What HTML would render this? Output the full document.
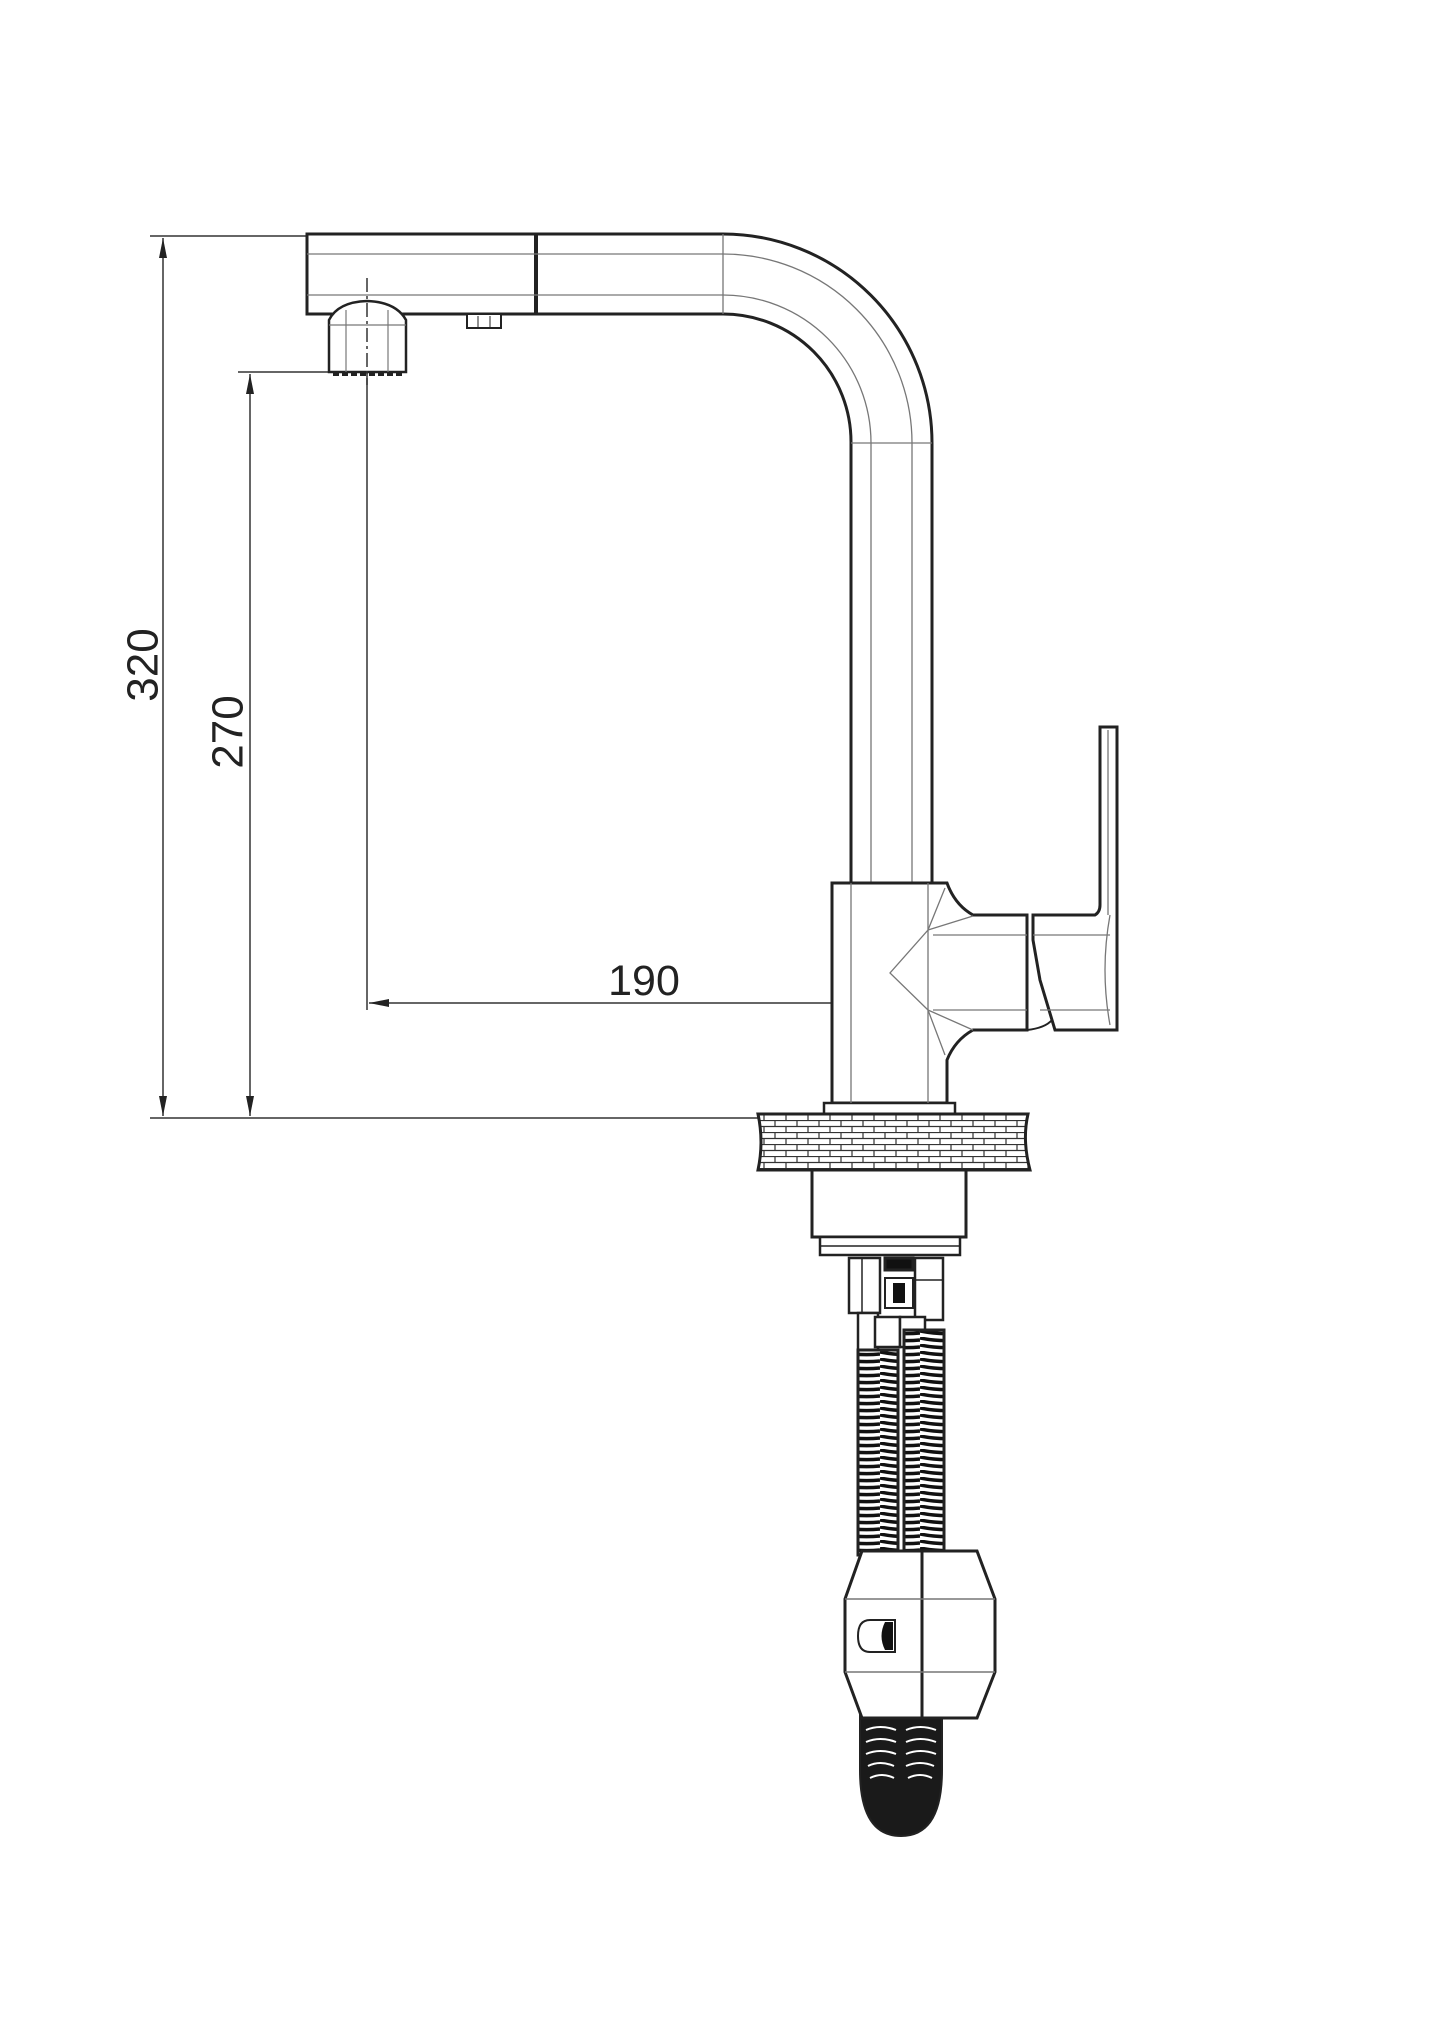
<!DOCTYPE html>
<html><head><meta charset="utf-8"><style>
html,body{margin:0;padding:0;background:#fff;}
svg{display:block;}
text{font-family:"Liberation Sans",sans-serif;fill:#222;}
</style></head><body>
<svg width="1445" height="2043" viewBox="0 0 1445 2043" xmlns="http://www.w3.org/2000/svg">
<defs>
<marker id="arv" viewBox="0 0 20 10" refX="20" refY="5" markerWidth="22" markerHeight="10" markerUnits="userSpaceOnUse" orient="auto-start-reverse">
<path d="M0,1 L20,5 L0,9 z" fill="#222"/></marker>
<pattern id="brick" width="22" height="12" patternUnits="userSpaceOnUse" x="0" y="1120">
<rect width="22" height="12" fill="#fff"/>
<path d="M0,0.5H22M0,6.5H22M5,0V6M16,6V12" stroke="#333" stroke-width="1.2" fill="none"/>
</pattern>
<pattern id="coil" width="40" height="7" patternUnits="userSpaceOnUse">
<rect width="40" height="7" fill="#fff"/>
<path d="M0,1 Q20,5 40,3" stroke="#111" stroke-width="3.5" fill="none"/>
</pattern>
</defs>

<g stroke="#333" stroke-width="1.5" fill="none">
<line x1="150" y1="236" x2="308" y2="236"/>
<line x1="238" y1="372" x2="330" y2="372"/>
<line x1="150" y1="1118" x2="760" y2="1118"/>
<line x1="163" y1="238" x2="163" y2="1116" marker-start="url(#arv)" marker-end="url(#arv)"/>
<line x1="250" y1="374" x2="250" y2="1116" marker-start="url(#arv)" marker-end="url(#arv)"/>
<line x1="369" y1="1003" x2="888" y2="1003" marker-start="url(#arv)" marker-end="url(#arv)"/>
<line x1="367" y1="360" x2="367" y2="1010"/>
<line x1="890" y1="1000" x2="890" y2="1097"/>
</g>
<text x="143" y="665" font-size="44" text-anchor="middle" dominant-baseline="central" transform="rotate(-90 143 665)">320</text>
<text x="228" y="732" font-size="44" text-anchor="middle" dominant-baseline="central" transform="rotate(-90 228 732)">270</text>
<text x="644" y="995" font-size="43" text-anchor="middle">190</text>

<g fill="none" stroke="#222">
<path d="M307,234 H723 A209,209 0 0 1 932,443 V890 H851 V443 A128,128 0 0 0 723,314 H307 Z" stroke-width="3" fill="#fff"/>
<line x1="536" y1="234" x2="536" y2="314" stroke-width="4"/>
<g stroke="#777" stroke-width="1.3">
<line x1="307" y1="254" x2="723" y2="254"/>
<line x1="307" y1="295" x2="723" y2="295"/>
<line x1="723" y1="234" x2="723" y2="314"/>
<path d="M723,254 A189,189 0 0 1 912,443 V890"/>
<path d="M723,295 A148,148 0 0 1 871,443 V890"/>
<line x1="851" y1="443" x2="932" y2="443"/>
</g>
<path d="M329,372 V320 Q338,302 367,301 Q396,302 406,320 V372 Z" stroke-width="2.5" fill="#fff"/>
<g stroke="#777" stroke-width="1.2"><line x1="329" y1="325" x2="406" y2="325"/><line x1="346" y1="310" x2="346" y2="372"/><line x1="388" y1="310" x2="388" y2="372"/></g>
<line x1="333" y1="374" x2="402" y2="374" stroke-width="4" stroke-dasharray="6,3"/>
<rect x="467" y="314" width="34" height="14" stroke-width="2" fill="#fff"/>
<line x1="478" y1="316" x2="478" y2="328" stroke-width="1"/><line x1="490" y1="316" x2="490" y2="328" stroke-width="1"/>
<line x1="367" y1="278" x2="367" y2="385" stroke="#333" stroke-width="1.5" stroke-dasharray="14,4,3,4"/>
</g>

<g fill="#fff" stroke="#222" stroke-width="3">
<path d="M832,883 H947 Q955,905 973,915 H1027 V1030 H973 Q955,1040 947,1060 V1103 H832 Z"/>
<rect x="824" y="1103" width="131" height="11" stroke-width="2.5"/>
<path d="M1033,915 H1095 Q1100,912 1100,905 V727 H1117 V1030 H1055 L1040,980 L1033,940 Z"/>
<path d="M1027,1030 Q1045,1028 1052,1020" fill="none" stroke-width="2"/>
</g>
<g stroke="#777" stroke-width="1.3" fill="none">
<line x1="851" y1="883" x2="851" y2="1103"/><line x1="928" y1="883" x2="928" y2="1103"/>
<path d="M945,888 L928,930 L890,973 L928,1010 L945,1055"/>
<path d="M928,930 L973,916 M928,1010 L973,1030"/>
<line x1="933" y1="935" x2="1027" y2="935"/><line x1="933" y1="1010" x2="1027" y2="1010"/>
<line x1="1033" y1="935" x2="1110" y2="935"/><line x1="1040" y1="1010" x2="1110" y2="1010"/>
<line x1="1108" y1="730" x2="1108" y2="915"/>
<path d="M1110,915 Q1100,970 1110,1025"/>
</g>

<path d="M758,1114 H1028 Q1022,1140 1030,1170 H758 Q764,1142 758,1114 Z" fill="url(#brick)" stroke="#222" stroke-width="3"/>

<g fill="#fff" stroke="#222" stroke-width="3">
<rect x="812" y="1170" width="154" height="67"/>
<rect x="820" y="1237" width="140" height="18" stroke-width="2.5"/>
<line x1="820" y1="1246" x2="960" y2="1246" stroke-width="1.5"/>
<rect x="849" y="1258" width="31" height="55" stroke-width="2.5"/>
<line x1="862" y1="1258" x2="862" y2="1313" stroke-width="1.5"/>
<rect x="858" y="1313" width="20" height="40" stroke-width="2.5"/>
<rect x="915" y="1258" width="28" height="62" stroke-width="2.5"/>
<line x1="915" y1="1280" x2="943" y2="1280" stroke-width="1.5"/>
<rect x="885" y="1258" width="28" height="12" fill="#111"/>
<rect x="885" y="1278" width="28" height="30" stroke-width="2"/>
<rect x="893" y="1283" width="12" height="20" fill="#111" stroke="none"/>
<rect x="875" y="1317" width="25" height="30" stroke-width="2.5"/>
<rect x="900" y="1317" width="25" height="30" stroke-width="2.5"/>
<rect x="858" y="1350" width="40" height="205" fill="url(#coil)" stroke-width="3"/>
<rect x="904" y="1330" width="40" height="225" fill="url(#coil)" stroke-width="3"/>
<path d="M860,1710 V1770 Q860,1836 901,1836 Q942,1836 942,1770 V1710 Z" fill="#1a1a1a" stroke-width="2"/>
<g stroke="#fff" stroke-width="2" fill="none">
<path d="M866,1730 Q880,1724 896,1730 M866,1742 Q880,1736 896,1742 M866,1754 Q880,1748 896,1754 M868,1766 Q880,1760 894,1766 M870,1778 Q882,1772 894,1778"/>
<path d="M906,1730 Q920,1724 936,1730 M906,1742 Q920,1736 936,1742 M906,1754 Q920,1748 936,1754 M906,1766 Q920,1760 934,1766 M908,1778 Q920,1772 932,1778"/>
</g>
<path d="M862,1551 H977 L995,1599 V1672 L977,1718 H862 L845,1672 V1599 Z"/>
<line x1="922" y1="1551" x2="922" y2="1718" stroke-width="3"/>
<line x1="845" y1="1599" x2="995" y2="1599" stroke="#777" stroke-width="1.5"/>
<line x1="845" y1="1672" x2="995" y2="1672" stroke="#777" stroke-width="1.5"/>
<path d="M895,1620 H870 Q858,1620 858,1636 Q858,1652 870,1652 H895 Z" stroke-width="2"/>
<path d="M885,1622 Q878,1636 885,1650 H893 V1622 Z" fill="#111" stroke="none"/>
</g>
</svg>
</body></html>
